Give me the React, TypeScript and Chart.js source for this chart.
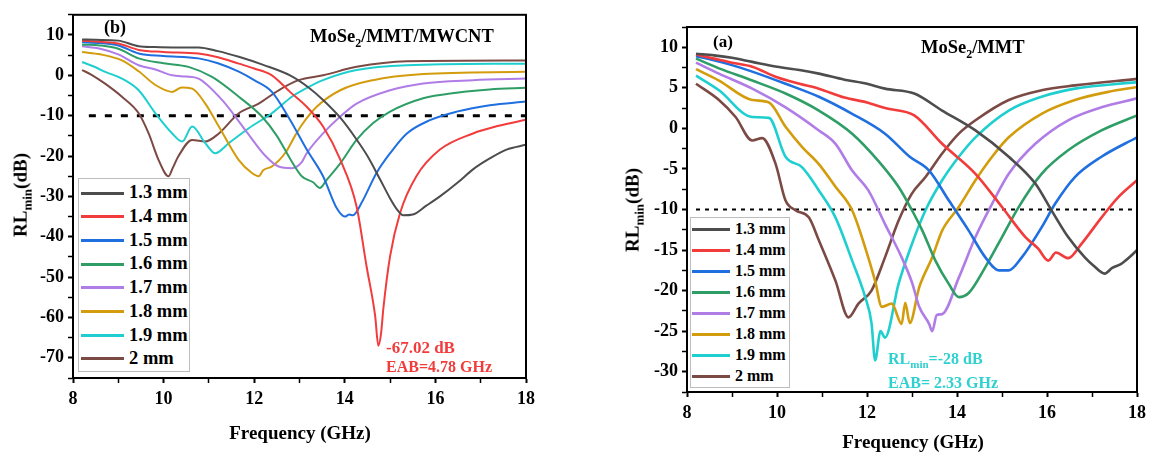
import React, { useEffect, useRef } from 'react';
import { Chart, registerables } from 'chart.js';
Chart.register(...registerables);

const FONT = '"Liberation Serif", "Times New Roman", serif';

const LABELS = ['1.3 mm', '1.4 mm', '1.5 mm', '1.6 mm', '1.7 mm', '1.8 mm', '1.9 mm', '2 mm'];
const COLORS = ['#4d4d4d', '#f23c3c', '#1f6fe0', '#2e9e66', '#b07ce6', '#d39c0c', '#1fcfcf', '#7b4a44'];

// ---- Panel (b): MoSe2/MMT/MWCNT ----
const B13 = [[8.2,8.9],[8.5,8.8],[9.0,8.6],[9.45,7.2],[9.8,7.0],[10.2,6.9],[10.77,6.9],[11.2,6.0],[11.66,4.6],[12.2,2.6],[12.79,0.0],[13.2,-3.0],[13.52,-6.1],[13.9,-10.5],[14.26,-15.9],[14.5,-20],[14.78,-25.8],[15.0,-30.5],[15.15,-33.2],[15.29,-34.7],[15.5,-34.5],[15.8,-32.3],[16.1,-30],[16.5,-26.5],[16.83,-23.3],[17.2,-20.6],[17.57,-18.4],[18,-17.2]];
const B14 = [[8.2,8.6],[8.6,8.3],[9.0,7.9],[9.45,6.3],[10.0,5.8],[10.77,5.4],[11.2,4.5],[11.66,2.9],[12.0,1.7],[12.39,0.0],[12.79,-4.1],[13.16,-7.8],[13.52,-12.7],[13.9,-20.9],[14.26,-32.5],[14.48,-47.3],[14.67,-59.6],[14.74,-67.0],[14.8,-64],[14.85,-57.9],[15.0,-44.8],[15.22,-34.1],[15.58,-25],[16.1,-18.4],[16.83,-14.4],[17.4,-12.5],[18,-11]];
const B15 = [[8.2,8.2],[8.6,8.0],[9.0,7.4],[9.45,5.4],[10.0,4.8],[10.77,4.2],[11.2,3.0],[11.66,0.9],[12.0,-1.2],[12.39,-4.1],[12.79,-11],[13.16,-18.4],[13.52,-25],[13.82,-32.9],[14.0,-35],[14.1,-34.5],[14.18,-34.7],[14.37,-31.6],[14.7,-24.2],[15.0,-19.3],[15.37,-14.4],[15.88,-11.1],[16.47,-9.0],[17.2,-7.4],[18,-6.5]];
const B16 = [[8.2,7.6],[8.6,7.4],[9.0,6.6],[9.45,4.2],[10.0,3.0],[10.55,2.1],[11.07,-0.4],[11.66,-5.3],[12.17,-10.2],[12.5,-15],[12.79,-20.6],[13.05,-25],[13.3,-26.5],[13.45,-27.9],[13.6,-25.9],[13.9,-21.8],[14.26,-16],[14.62,-11.9],[15.0,-9],[15.73,-5.7],[16.47,-4.3],[17.2,-3.5],[18,-3.1]];
const B17 = [[8.2,7.2],[8.6,6.6],[9.0,5.2],[9.45,2.5],[9.8,1.5],[10.19,0],[10.5,-0.3],[10.77,-0.8],[11.29,-6.1],[11.8,-13.5],[12.25,-20],[12.54,-22.6],[12.83,-23],[13.05,-21.5],[13.16,-19.3],[13.52,-14.4],[13.9,-10.2],[14.26,-7],[15.0,-3.7],[15.73,-2],[16.83,-1.2],[18,-0.8]];
const B18 = [[8.2,5.8],[8.6,5.2],[9.08,3.7],[9.45,1.0],[9.82,-2.4],[10.19,-4.1],[10.4,-3.0],[10.63,-3.3],[10.92,-7],[11.22,-12.7],[11.66,-21],[11.95,-24.2],[12.1,-25],[12.2,-23.5],[12.39,-22.6],[12.7,-19],[12.9,-15],[13.05,-12.3],[13.38,-7.8],[13.9,-3.7],[14.62,-1.2],[15.73,0.3],[18,0.9]];
const B19 = [[8.2,3.3],[8.5,2.0],[8.7,0.9],[9.08,-0.8],[9.45,-3.7],[9.82,-9.4],[10.19,-14.4],[10.41,-16.4],[10.63,-12.7],[10.92,-16.8],[11.14,-19.3],[11.44,-16.8],[11.88,-13.1],[12.39,-9.4],[12.83,-5.3],[13.1,-3.5],[13.52,-1.2],[14.26,1.3],[15.37,2.5],[18,2.9]];
const B20 = [[8.2,1.3],[8.4,0.2],[8.7,-2.0],[9.08,-5.3],[9.45,-9.4],[9.67,-14.4],[9.89,-21],[10.11,-25],[10.2,-23],[10.33,-20],[10.63,-16],[10.92,-16.4],[11.22,-14.4],[11.66,-9.4],[12.1,-7],[12.54,-3.7],[12.98,-1.2],[13.52,0],[14.26,2.1],[15.37,3.5],[18,3.7]];
const B_SERIES = [B13, B14, B15, B16, B17, B18, B19, B20];
const B_REF = [[8.35,-10],[18,-10]];

// ---- Panel (a): MoSe2/MMT ----
const A13 = [[8.2,9.2],[8.6,9.0],[9.0,8.7],[9.45,8.2],[10.0,7.6],[10.5,7.2],[10.93,6.75],[11.5,6.0],[12.0,5.5],[12.4,4.9],[13.05,4.3],[13.67,2.2],[14.41,-0.25],[15.15,-3.5],[15.74,-6.8],[16.1,-10.1],[16.47,-13.4],[16.84,-15.9],[17.05,-17],[17.28,-17.9],[17.45,-17.2],[17.65,-16.7],[17.85,-15.8],[18,-15]];
const A14 = [[8.2,9.1],[8.6,8.6],[9.0,8.1],[9.45,7.6],[10.0,6.3],[10.5,5.5],[10.93,4.9],[11.5,3.8],[12.0,3.2],[12.4,2.5],[13.05,1.6],[13.67,-1.9],[14.41,-5.6],[15.0,-9.7],[15.52,-13.4],[15.8,-14.8],[16.03,-16.3],[16.2,-15.3],[16.47,-16],[16.77,-14.2],[17.21,-11],[17.58,-8.5],[18,-6.4]];
const A15 = [[8.2,8.9],[8.6,8.4],[9.0,7.8],[9.45,7.0],[10.19,5.5],[10.93,3.9],[11.67,1.8],[12.4,-0.65],[12.95,-3.5],[13.38,-5.2],[13.82,-8.9],[14.26,-12.6],[14.63,-15.9],[14.93,-17.5],[15.15,-17.5],[15.44,-15.9],[15.88,-12.2],[16.18,-9.3],[16.62,-6.0],[17.21,-3.5],[18,-1.1]];
const A16 = [[8.2,8.6],[8.71,7.4],[9.45,5.9],[10.19,4.3],[10.93,2.2],[11.67,-0.65],[12.25,-4],[12.7,-7.2],[12.99,-10],[13.23,-12.6],[13.52,-16.3],[13.82,-19.2],[14.04,-20.8],[14.26,-20.3],[14.63,-17.1],[15.0,-13.4],[15.37,-9.7],[15.88,-5.6],[16.47,-2.7],[17.21,-0.25],[18,1.6]];
const A17 = [[8.2,8.1],[8.71,6.75],[9.45,4.9],[10.19,2.6],[10.93,-0.25],[11.3,-1.9],[11.67,-5.2],[12.03,-7.65],[12.4,-11.8],[12.77,-15.9],[13.0,-19],[13.16,-22],[13.38,-24.1],[13.45,-25],[13.55,-23],[13.67,-22.9],[14.04,-18.4],[14.41,-13.4],[14.78,-9.3],[15.15,-5.6],[15.74,-1.9],[16.47,1],[17.21,2.6],[18,3.7]];
const A18 = [[8.2,7.3],[8.71,5.9],[9.45,3.5],[9.82,3.2],[10.19,0.2],[10.56,-2.3],[10.93,-4.4],[11.3,-7.2],[11.67,-10.1],[11.96,-14.7],[12.18,-18.8],[12.33,-22],[12.55,-21.6],[12.77,-24.1],[12.85,-21.5],[12.95,-24],[13.16,-19.6],[13.45,-15.9],[13.67,-12.6],[14.04,-9.7],[14.41,-6.4],[14.78,-3.5],[15.15,-1.1],[15.88,1.8],[16.62,3.5],[17.36,4.5],[18,5.1]];
const A19 = [[8.2,6.5],[8.71,4.7],[9.45,1.4],[9.82,1.3],[10.19,-3.5],[10.56,-4.8],[10.93,-7.65],[11.3,-11],[11.67,-16.3],[11.96,-20.8],[12.1,-24],[12.18,-28.6],[12.3,-25],[12.4,-25.8],[12.7,-19.2],[12.95,-15],[13.3,-10.1],[13.67,-6.4],[14.04,-3.5],[14.41,-1.1],[15.15,2.2],[15.88,3.9],[16.62,4.9],[18,5.7]];
const A20 = [[8.2,5.5],[8.71,3.5],[9.08,1.4],[9.45,-1.5],[9.67,-1.2],[9.97,-4.4],[10.19,-8.9],[10.41,-10.1],[10.71,-11],[10.93,-13.8],[11.3,-18.8],[11.59,-23.3],[11.81,-21.6],[12.1,-20],[12.4,-15.9],[12.7,-11.4],[12.99,-8.1],[13.3,-6],[13.67,-3.1],[14.04,-0.65],[14.41,1],[15.15,3.5],[15.88,4.7],[16.62,5.3],[18,6.1]];
const A_SERIES = [A13, A14, A15, A16, A17, A18, A19, A20];
const A_REF = [[8.2,-10],[17.9,-10]];

const X_MIN = 8, X_MAX = 18, X_STEP = 1;

const framePlugin = {
  id: 'frame',
  afterDatasetsDraw(chart: any) {
    const { ctx, chartArea } = chart;
    ctx.save();
    ctx.strokeStyle = '#000';
    ctx.lineWidth = 2;
    ctx.strokeRect(chartArea.left, chartArea.top, chartArea.right - chartArea.left, chartArea.bottom - chartArea.top);
    ctx.restore();
  },
};

type PanelProps = {
  left: number; width: number; height: number;
  area: { left: number; right: number; top: number; bottom: number };
  series: number[][][]; refLine: number[][]; refDash: number[]; refWidth: number;
  yMin: number; yMax: number; yStep: number; yLabelStep: number; yLabelMin: number; yLabelMax: number;
  lineWidth: number; fontSize: number;
};

function Panel(p: PanelProps) {
  const ref = useRef<HTMLCanvasElement>(null);
  useEffect(() => {
    const datasets: any[] = p.series.map((s, i) => ({
      label: LABELS[i],
      data: s.map(([x, y]) => ({ x, y })),
      borderColor: COLORS[i],
      borderWidth: p.lineWidth,
      pointRadius: 0,
      cubicInterpolationMode: 'monotone',
      fill: false,
    }));
    datasets.push({
      label: 'ref',
      data: p.refLine.map(([x, y]) => ({ x, y })),
      borderColor: '#000',
      borderWidth: p.refWidth,
      borderDash: p.refDash,
      pointRadius: 0,
      tension: 0,
      fill: false,
    });
    const tickFont = { family: FONT, size: p.fontSize, weight: 'bold' as const };
    const isMajor = (n: number) => {
      const r = Math.abs(n % p.yLabelStep);
      return r < 1e-6 || Math.abs(r - p.yLabelStep) < 1e-6;
    };
    const chart = new Chart(ref.current!, {
      type: 'line',
      data: { datasets },
      plugins: [framePlugin],
      options: {
        responsive: false,
        animation: false,
        events: [],
        layout: { padding: { left: 0, top: p.area.top, right: p.width - p.area.right, bottom: 0 } },
        plugins: { legend: { display: false }, tooltip: { enabled: false } },
        scales: {
          x: {
            type: 'linear', min: X_MIN, max: X_MAX,
            afterFit: (s: any) => { s.height = p.height - p.area.bottom; },
            ticks: {
              stepSize: X_STEP, autoSkip: false, maxRotation: 0, padding: 6, color: '#000', font: tickFont,
              callback: (v: any) => (Number(v) % 2 === 0 ? String(v) : ''),
            },
            grid: { drawOnChartArea: false, drawTicks: true, tickLength: 5, tickColor: '#000',
              tickWidth: (c: any) => (c.tick && Number(c.tick.value) % 2 === 0 ? 2 : 1.5) },
            border: { display: true, color: '#000', width: 2 },
          },
          y: {
            type: 'linear', min: p.yMin, max: p.yMax,
            afterFit: (s: any) => { s.width = p.area.left; },
            ticks: {
              stepSize: p.yStep, autoSkip: false, padding: 4, color: '#000', font: tickFont,
              callback: (v: any) => {
                const n = Number(v);
                return isMajor(n) && n >= p.yLabelMin && n <= p.yLabelMax ? String(Math.round(n)) : '';
              },
            },
            grid: { drawOnChartArea: false, drawTicks: true, tickLength: 5, tickColor: '#000',
              tickWidth: (c: any) => (c.tick && isMajor(Number(c.tick.value)) ? 2 : 1.5) },
            border: { display: true, color: '#000', width: 2 },
          },
        },
      } as any,
    });
    return () => chart.destroy();
  }, []);
  return (
    <canvas ref={ref} width={p.width} height={p.height}
      style={{ position: 'absolute', left: p.left, top: 0, width: p.width, height: p.height }} />
  );
}

const txt = (extra: React.CSSProperties): React.CSSProperties => ({
  position: 'absolute', fontFamily: FONT, fontWeight: 'bold', whiteSpace: 'nowrap', color: '#000', lineHeight: 1, ...extra,
});

function Legend({ x, y, w, h, row0, dy, lx0, lx1, tx, size, lw }: any) {
  return (
    <>
      <div style={{ position: 'absolute', left: x, top: y, width: w, height: h, border: '1px solid #bdbdbd', boxSizing: 'border-box', background: '#fff' }} />
      {LABELS.map((l, i) => {
        const cy = row0 + i * dy;
        return (
          <React.Fragment key={l}>
            <div style={{ position: 'absolute', left: lx0, top: cy - lw / 2, width: lx1 - lx0, height: lw, background: COLORS[i] }} />
            <div style={txt({ left: tx, top: cy - size * 0.52, fontSize: size })}>{l}</div>
          </React.Fragment>
        );
      })}
    </>
  );
}

export default function App() {
  return (
    <div style={{ position: 'absolute', left: 0, top: 0, width: 1152, height: 455, background: '#fff', overflow: 'hidden' }}>
      <Panel left={0} width={560} height={455} area={{ left: 73, right: 526, top: 13, bottom: 378 }}
        series={B_SERIES} refLine={B_REF} refDash={[7, 9]} refWidth={3}
        yMin={-75} yMax={15} yStep={5} yLabelStep={10} yLabelMin={-70} yLabelMax={10}
        lineWidth={2} fontSize={18} />
      <Panel left={600} width={552} height={455} area={{ left: 87, right: 539, top: 27, bottom: 392 }}
        series={A_SERIES} refLine={A_REF} refDash={[4, 5]} refWidth={2}
        yMin={-32.5} yMax={12.5} yStep={2.5} yLabelStep={5} yLabelMin={-30} yLabelMax={10}
        lineWidth={2.6} fontSize={18} />

      {/* Panel (b) texts */}
      <div style={txt({ left: 104, top: 18, fontSize: 18 })}>(b)</div>
      <div style={txt({ left: 310, top: 27, fontSize: 18.5 })}>MoSe<sub style={{ fontSize: 12 }}>2</sub>/MMT/MWCNT</div>
      <div style={txt({ left: 386, top: 339, fontSize: 17, color: '#f23c3c' })}>-67.02 dB</div>
      <div style={txt({ left: 386, top: 359, fontSize: 16, color: '#f23c3c' })}>EAB=4.78 GHz</div>
      <div style={txt({ left: 22, top: 195, fontSize: 19, transform: 'translate(-50%,-50%) rotate(-90deg)' })}>RL<sub style={{ fontSize: 13 }}>min</sub>(dB)</div>
      <div style={txt({ left: 300, top: 432, fontSize: 19, transform: 'translate(-50%,-50%)' })}>Frequency (GHz)</div>
      <Legend x={78} y={178} w={112} h={194} row0={193} dy={23.7} lx0={81} lx1={124} tx={129} size={18.5} lw={3} />

      {/* Panel (a) texts */}
      <div style={txt({ left: 713, top: 33, fontSize: 17 })}>(a)</div>
      <div style={txt({ left: 921, top: 38, fontSize: 18.5 })}>MoSe<sub style={{ fontSize: 12 }}>2</sub>/MMT</div>
      <div style={txt({ left: 888, top: 351, fontSize: 16, color: '#2fd0d0' })}>RL<sub style={{ fontSize: 11 }}>min</sub>=-28 dB</div>
      <div style={txt({ left: 888, top: 375, fontSize: 16, color: '#2fd0d0' })}>EAB= 2.33 GHz</div>
      <div style={txt({ left: 634, top: 210, fontSize: 19, transform: 'translate(-50%,-50%) rotate(-90deg)' })}>RL<sub style={{ fontSize: 13 }}>min</sub>(dB)</div>
      <div style={txt({ left: 913, top: 441, fontSize: 19, transform: 'translate(-50%,-50%)' })}>Frequency (GHz)</div>
      <Legend x={690} y={217} w={100} h={171} row0={229} dy={21} lx0={692} lx1={730} tx={735} size={16} lw={3} />
    </div>
  );
}
